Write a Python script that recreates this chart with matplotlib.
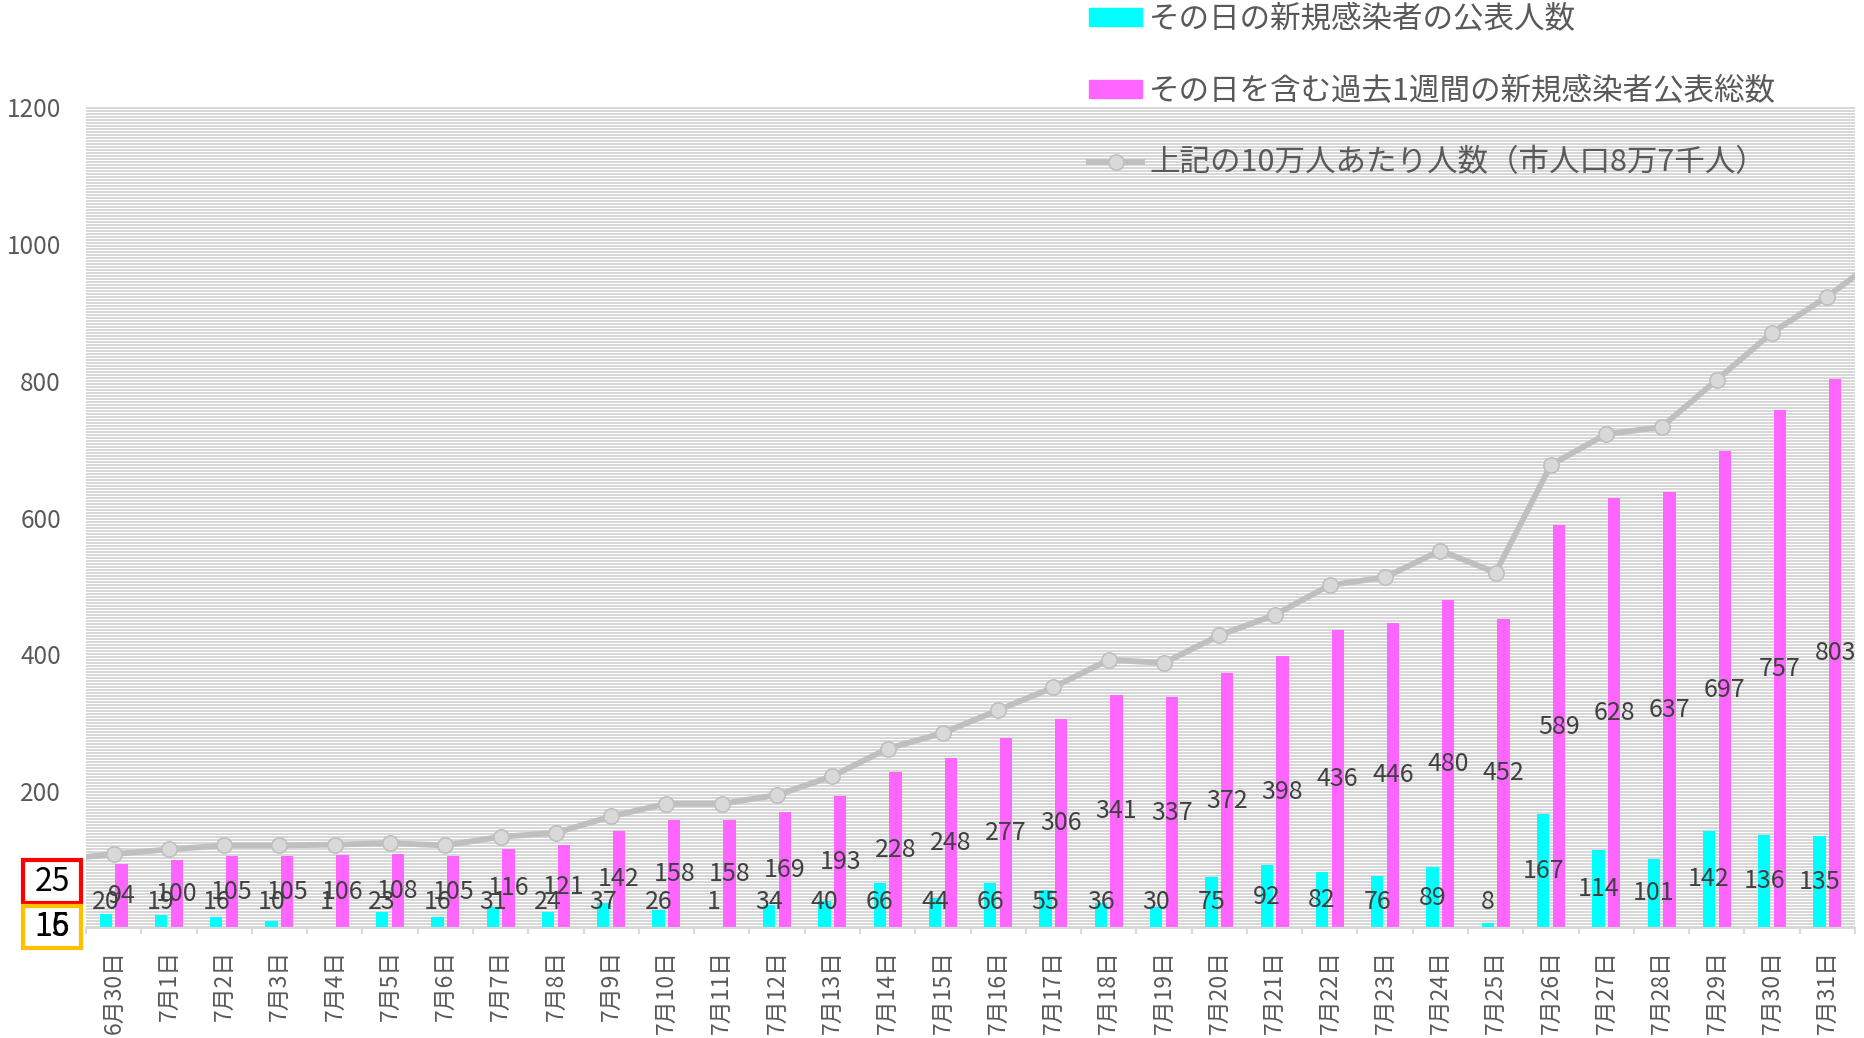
import matplotlib
matplotlib.use('Agg')
import matplotlib.pyplot as plt
from matplotlib.patches import Patch, Rectangle
from matplotlib.lines import Line2D
import numpy as np

plt.rcParams['font.family'] = ['Liberation Sans Narrow', 'Noto Sans CJK JP', 'DejaVu Sans']

# data
dates = ['6月30日'] + ['7月%d日' % d for d in range(1, 32)]
daily = [20, 19, 16, 10, 1, 23, 16, 31, 24, 37, 26, 1, 34, 40, 66, 44,
         66, 55, 36, 30, 75, 92, 82, 76, 89, 8, 167, 114, 101, 142, 136, 135]
weekly = [94, 100, 105, 105, 106, 108, 105, 116, 121, 142, 158, 158, 169, 193, 228, 248,
          277, 306, 341, 337, 372, 398, 436, 446, 480, 452, 589, 628, 637, 697, 757, 803]
per100k = [108.0, 114.9, 120.7, 120.7, 121.8, 124.1, 120.7, 133.3, 139.1, 163.2, 181.6,
           181.6, 194.3, 221.8, 262.1, 285.1, 318.4, 351.7, 392.0, 387.4, 427.6, 457.5,
           501.1, 512.6, 551.7, 519.5, 677.0, 721.8, 732.2, 801.1, 870.1, 923.0]
# neighbours outside the plotted range, only their segments show at the edges
prev_day = 100.0
next_day = 983.0
legend_labels = ['その日の新規感染者の公表人数',
                 'その日を含む過去1週間の新規感染者公表総数',
                 '上記の10万人あたり人数（市人口8万7千人）']

W, H = 1864, 1038
fig = plt.figure(figsize=(W / 100, H / 100), dpi=100)
L, R, T, B = 86, 1855, 107, 928
ax = fig.add_axes([L / W, (H - B) / H, (R - L) / W, (B - T) / H])
ax.set_facecolor('none')

# striped plot background
rows = B - T
pat = np.array([0.85, 0.85, 1.0])
col = np.resize(pat, rows)
img = np.repeat(col[:, None], R - L, axis=1)
img = np.dstack([img, img, img])
fig.figimage(img, xo=L, yo=H - B, zorder=-1)

x = np.arange(len(dates))
w = 0.222
off = 0.142
ax.bar(x - off, daily, w, color='#00ffff', zorder=2)
ax.bar(x + off, weekly, w, color='#ff66ff', zorder=2)

line_y = [prev_day] + per100k + [next_day]
ax.plot(np.arange(-1, len(line_y) - 1), line_y, color='#bfbfbf', lw=4.2, marker='o', ms=11,
        mfc='#d9d9d9', mec='#bfbfbf', mew=1.2, zorder=3)

for i in range(len(dates)):
    ax.text(x[i] - off, max(daily[i] / 2, 38), str(daily[i]), ha='center', va='center',
            fontsize=18, color='#404040', zorder=4)
    ax.text(x[i] + off, max(weekly[i] / 2, 38), str(weekly[i]), ha='center', va='center',
            fontsize=18, color='#404040', zorder=4)

ax.set_xlim(-0.5, len(dates) - 0.5)
ax.set_ylim(0, 1200)
ax.set_yticks(range(0, 1201, 200))
ax.tick_params(axis='y', length=0, pad=18, labelsize=17.5, labelcolor='#595959')

ax.set_xticks(np.arange(-0.5, len(dates), 1))
ax.set_xticklabels([])
ax.set_xticks(x, minor=True)
ax.set_xticklabels(dates, minor=True, rotation=90)
ax.tick_params(axis='x', which='major', length=4, width=1.5, color='#d9d9d9')
ax.tick_params(axis='x', which='minor', length=0, pad=16, labelsize=16.5, labelcolor='#595959')

for s in ['top', 'right', 'left']:
    ax.spines[s].set_visible(False)
ax.spines['bottom'].set_color('#d9d9d9')
ax.spines['bottom'].set_linewidth(1.5)

# legend
handles = [Patch(color='#00ffff'), Patch(color='#ff66ff'),
           Line2D([], [], color='#bfbfbf', lw=4.2, marker='o', ms=11,
                  mfc='#d9d9d9', mec='#bfbfbf', mew=1.2)]
fig.legend(handles, legend_labels, loc='upper left', bbox_to_anchor=(1089 / W, 1 - 4 / H),
           frameon=False, fontsize=22, labelcolor='#595959', borderpad=0, borderaxespad=0,
           handlelength=1.75, handleheight=0.5, handletextpad=0.22, labelspacing=1.33)

# boxes at bottom left
fig.add_artist(Rectangle((23 / W, 1 - 903 / H), 58 / W, 43 / H, transform=fig.transFigure,
                         fc='white', ec='#ff0000', lw=3, zorder=5))
fig.add_artist(Rectangle((23 / W, 1 - 948 / H), 58 / W, 42 / H, transform=fig.transFigure,
                         fc='white', ec='#ffc000', lw=3, zorder=5))
fig.text(52 / W, 1 - 882 / H, '25', ha='center', va='center', fontsize=23, color='black', zorder=6)
fig.text(52 / W, 1 - 927 / H, '15', ha='center', va='center', fontsize=23, color='black', zorder=6)
fig.text(52 / W, 1 - 927 / H, '16', ha='center', va='center', fontsize=23, color='black', zorder=6)

fig.savefig('out.png', dpi=100)
